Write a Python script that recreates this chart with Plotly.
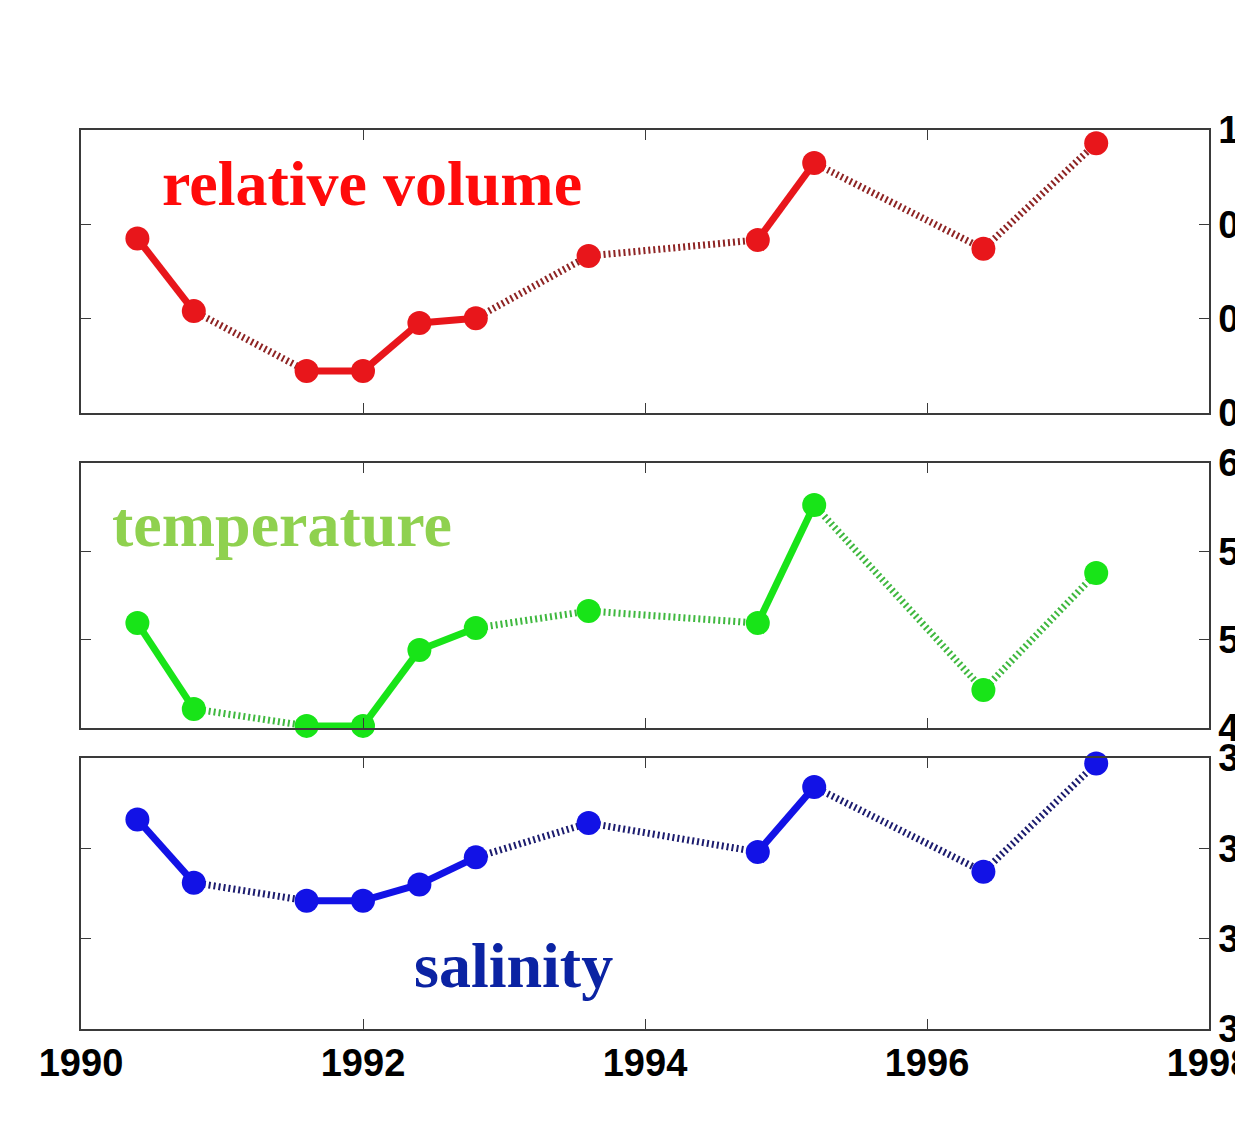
import plotly.graph_objects as go

# Survey dates (decimal years) shared by all three series
years = [1990.4, 1990.8, 1991.6, 1992.0, 1992.4, 1992.8, 1993.6, 1994.8, 1995.2, 1996.4, 1997.2]
# True where two surveys are consecutive (solid link), False across a gap (dotted link)
consecutive = [True, False, True, True, True, False, False, True, False, False]

relative_volume = [0.770, 0.616, 0.489, 0.489, 0.591, 0.601, 0.733, 0.767, 0.930, 0.748, 0.972]
temperature = [5.094, 4.608, 4.512, 4.512, 4.942, 5.066, 5.162, 5.094, 5.762, 4.715, 5.377]
salinity = [34.966, 34.931, 34.921, 34.921, 34.930, 34.945, 34.964, 34.948, 34.984, 34.937, 34.997]

year_ticks = [1990, 1992, 1994, 1996, 1998]
volume_ticks = [0.4, 0.6, 0.8, 1.0]
temperature_ticks = [4.5, 5.0, 5.5, 6.0]
salinity_ticks = [34.85, 34.9, 34.95, 35.0]

W, H = 1235, 1130


def fx(px):
    return px / W


def fy(px):
    return 1 - px / H


def split(xs, ys, flags, want):
    """Return x/y lists holding only the links whose flag equals `want`."""
    sx, sy = [], []
    for i, f in enumerate(flags):
        if f == want:
            sx += [xs[i], xs[i + 1], None]
            sy += [ys[i], ys[i + 1], None]
    return sx, sy


panels = [
    dict(values=relative_volume, ticks=volume_ticks, rng=[0.4, 1.0],
         marker="#e8161b", dotted="#8e2424", top=130, bottom=413),
    dict(values=temperature, ticks=temperature_ticks, rng=[4.5, 6.0],
         marker="#18e418", dotted="#3fb83f", top=463, bottom=728),
    dict(values=salinity, ticks=salinity_ticks, rng=[34.85, 35.0],
         marker="#1212e6", dotted="#1c1c6e", top=758, bottom=1029),
]

fig = go.Figure()
axis_color = "#3a3a3a"
tick_font = dict(family="Liberation Sans, Arial, sans-serif", size=38, color="black", weight="bold")

for k, p in enumerate(panels, start=1):
    xa = "x" if k == 1 else f"x{k}"
    ya = "y" if k == 1 else f"y{k}"
    dx, dy = split(years, p["values"], consecutive, False)
    sx, sy = split(years, p["values"], consecutive, True)
    fig.add_trace(go.Scatter(x=dx, y=dy, mode="lines", xaxis=xa, yaxis=ya,
                             line=dict(color=p["dotted"], width=7, dash="2px,3px"),
                             connectgaps=False, hoverinfo="skip", showlegend=False))
    fig.add_trace(go.Scatter(x=sx, y=sy, mode="lines", xaxis=xa, yaxis=ya,
                             line=dict(color=p["marker"], width=7),
                             connectgaps=False, hoverinfo="skip", showlegend=False))
    fig.add_trace(go.Scatter(x=years, y=p["values"], mode="markers", xaxis=xa, yaxis=ya,
                             marker=dict(color=p["marker"], size=24, line=dict(width=0)),
                             cliponaxis=False, showlegend=False))

    xkey = "xaxis" if k == 1 else f"xaxis{k}"
    ykey = "yaxis" if k == 1 else f"yaxis{k}"
    fig.update_layout({
        xkey: dict(domain=[fx(81), fx(1209)], anchor=ya, range=[1990, 1998],
                   tickvals=year_ticks, ticks="inside", ticklen=10, tickwidth=1,
                   tickcolor=axis_color, showline=True, linecolor=axis_color,
                   linewidth=1.5, mirror="ticks", showgrid=False, zeroline=False,
                   showticklabels=(k == 3), tickfont=tick_font, ticklabelstandoff=0,
                   ticklabeloverflow="allow", automargin=False),
        ykey: dict(domain=[fy(p["bottom"]), fy(p["top"])], anchor=xa, side="right",
                   range=p["rng"], tickvals=p["ticks"], ticks="inside", ticklen=10,
                   tickwidth=1, tickcolor=axis_color, showline=True,
                   linecolor=axis_color, linewidth=1.5, mirror="ticks",
                   showgrid=False, zeroline=False, tickfont=tick_font,
                   ticklabeloverflow="allow", automargin=False),
    })

label_font = "Liberation Serif, Times New Roman, serif"
labels = [
    ("relative volume", "#ff0a0a", 160, 184),
    ("temperature", "#8fd14f", 110, 524),
    ("salinity", "#0b23a3", 412, 965),
]
for text, color, x0, yc in labels:
    fig.add_annotation(text=text, xref="paper", yref="paper", x=fx(x0), y=fy(yc),
                       xanchor="left", yanchor="middle", showarrow=False,
                       font=dict(family=label_font, size=64, color=color, weight="bold"))

fig.update_layout(width=W, height=H, margin=dict(l=0, r=0, t=0, b=0),
                  paper_bgcolor="white", plot_bgcolor="white")

fig.write_html("out.html")
